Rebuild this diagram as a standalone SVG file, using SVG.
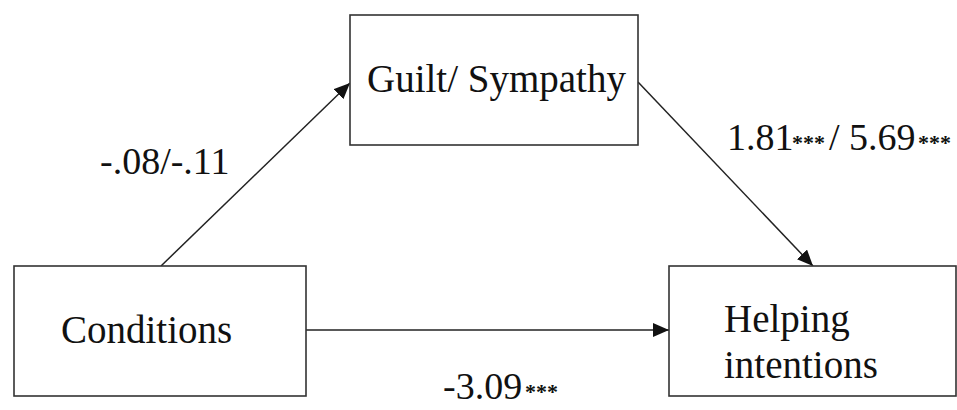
<svg xmlns="http://www.w3.org/2000/svg" width="957" height="410" viewBox="0 0 957 410">
  <style>
    .box { fill: #ffffff; stroke: #333333; stroke-width: 1.6; }
    .lbl { font-family: "Liberation Serif", "Times New Roman", serif; font-size: 39px; fill: #111111; }
    .num { font-family: "Liberation Serif", "Times New Roman", serif; font-size: 38px; fill: #111111; }
    .star { font-size: 22px; font-weight: bold; }
    .edge { stroke: #222222; stroke-width: 1.5; fill: none; marker-end: url(#arrow); }
  </style>
  <defs>
    <marker id="arrow" markerUnits="userSpaceOnUse" markerWidth="18" markerHeight="14" refX="16" refY="7" orient="auto">
      <path d="M0,0 L16,7 L0,14 Z" fill="#111111"/>
    </marker>
  </defs>

  <rect width="957" height="410" fill="#ffffff"/>

  <g id="connectors">
    <line class="edge" x1="161" y1="266" x2="350" y2="83"/>
    <line class="edge" x1="638" y1="82" x2="813" y2="266"/>
    <line class="edge" x1="306" y1="330" x2="669" y2="330"/>
  </g>

  <g id="node-guilt">
    <rect class="box" x="350" y="15" width="288" height="130"/>
    <text class="lbl" x="367" y="92">Guilt/ Sympathy</text>
  </g>

  <g id="node-conditions">
    <rect class="box" x="14" y="266" width="292" height="130"/>
    <text class="lbl" x="61" y="343">Conditions</text>
  </g>

  <g id="node-helping">
    <rect class="box" x="669" y="266" width="287" height="130"/>
    <text class="lbl" x="724" y="332">Helping</text>
    <text class="lbl" x="724" y="378">intentions</text>
  </g>

  <g id="labels">
    <text class="num" x="727" y="150">1.81<tspan class="star" x="792">***</tspan><tspan x="829">/ 5.69</tspan><tspan class="star" x="918">***</tspan></text>
    <text class="num" x="100" y="174">-.08/-.11</text>
    <text class="num" x="443" y="399">-3.09<tspan class="star" x="525">***</tspan></text>
  </g>
</svg>
